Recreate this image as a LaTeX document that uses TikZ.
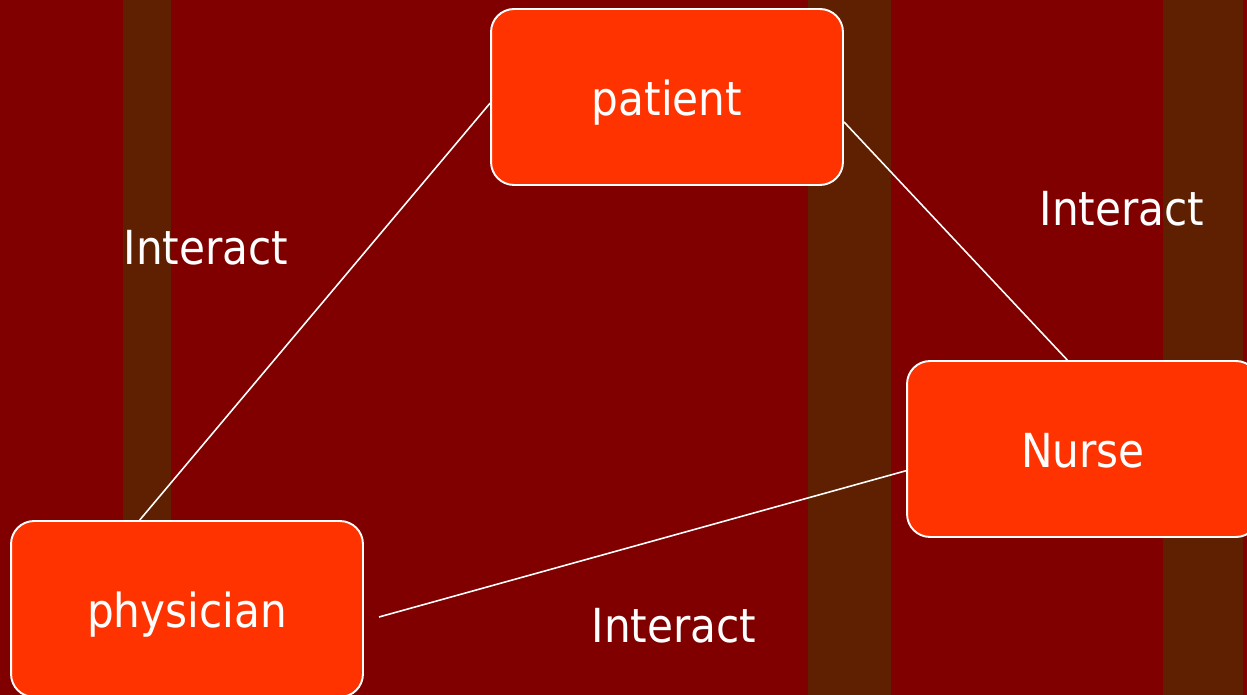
\documentclass[tikz,border=0pt]{standalone}
\usepackage{fontspec}
\setmainfont{DejaVu Sans}[FakeStretch=0.9]
\usepackage{tikz}
\usepackage{xcolor}
\usetikzlibrary{positioning}
\definecolor{bgred}{HTML}{800000}
\definecolor{stripebrown}{HTML}{5E2000}
\definecolor{boxred}{HTML}{FF3300}

\begin{document}
\begin{tikzpicture}[x=0.02cm,y=-0.02cm,
  box/.style={draw=white, line width=1.1pt, fill=boxred, rounded corners=0.46cm,
    minimum width=7.04cm, minimum height=3.52cm, inner sep=0pt, text=white,
    text height=0.76cm, text depth=0cm,
    font=\fontsize{26.7}{32}\selectfont},
  lbl/.style={text=white, inner sep=0pt, font=\fontsize{26.7}{32}\selectfont},
  link/.style={draw=white, line width=0.9pt}]
\useasboundingbox (0,0) rectangle (1247,695);
\fill[bgred] (0,0) rectangle (1247,695); %background
\fill[stripebrown] (123,0) rectangle (171,695);
\fill[stripebrown] (808,0) rectangle (891,695);
\fill[stripebrown] (1163,0) rectangle (1243,695);

\node[box] (patient) at (667,97) {patient};
\node[box] (nurse) at (1083,449) {Nurse};
\node[box] (physician) at (187,609) {physician};
\coordinate (physend) at (379,617);

\draw[link] (patient.182.6) -- (physician.118.6);
\draw[link] (patient.-8.1) -- (nurse.100.9);
\draw[link] (nurse.187.8) -- (physend);

\node[lbl] (lblleft) at (206,248) {Interact};
\node[lbl] (lblright) at (1122,209) {Interact};
\node[lbl] (lblbottom) at (674,626) {Interact};
\end{tikzpicture}
\end{document}
